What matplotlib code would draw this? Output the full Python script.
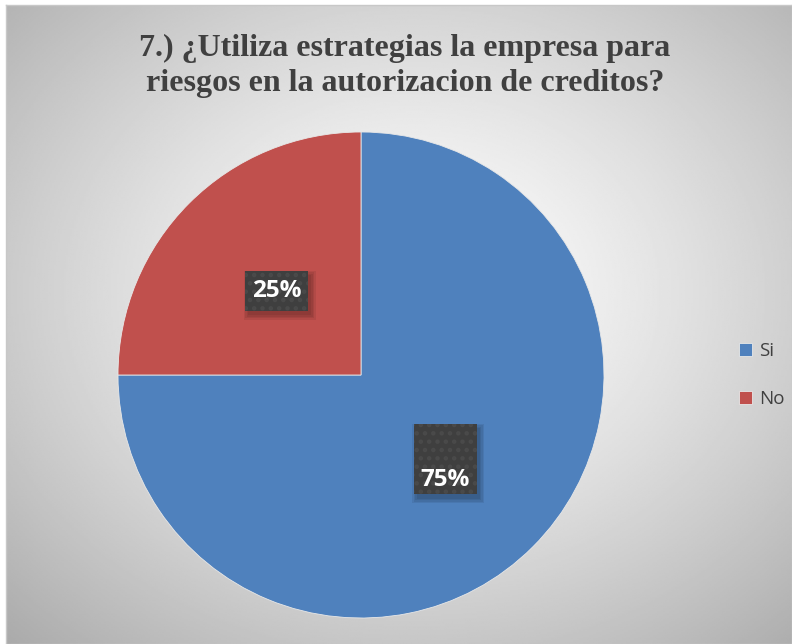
import numpy as np
import matplotlib
matplotlib.use("Agg")
import matplotlib.pyplot as plt
from matplotlib.patches import Rectangle

# data
categories = ["Si", "No"]
values = [75, 25]
colors = ["#4F81BD", "#C0504D"]
title = "7.) ¿Utiliza estrategias la empresa para\nriesgos en la autorizacion de creditos?"

W, H = 792, 644
fig = plt.figure(figsize=(W / 100, H / 100), dpi=100)
fig.patch.set_facecolor("white")

# radial gradient background
bg = fig.add_axes([6 / W, 0, 1 - 6 / W, 1 - 5 / H])
yy, xx = np.mgrid[0:1:400j, 0:1:400j]
r = np.sqrt(((xx - 0.52) / 0.75) ** 2 + ((yy - 0.45) / 0.75) ** 2)
shade = np.clip(1.0 - 0.33 * r ** 1.3, 0, 1)
bg.imshow(shade, cmap="gray", vmin=0, vmax=1, extent=[0, 1, 0, 1],
          aspect="auto", origin="upper")
bg.set_xticks([])
bg.set_yticks([])
for s in bg.spines.values():
    s.set_color("#c8c8c8")
    s.set_linewidth(1)

# pie axes: centre (361, 375) px, radius 243 px
cx, cy, rad = 361 / W, 1 - 375 / H, 243
ax = fig.add_axes([cx - rad / W, cy - rad / H, 2 * rad / W, 2 * rad / H])
wedges, _ = ax.pie(values, colors=colors, startangle=90, counterclock=False,
                   radius=1, wedgeprops=dict(edgecolor="#e8e8e8", linewidth=0.6),
                   frame=False)
ax.set_xlim(-1, 1)
ax.set_ylim(-1, 1)

# data labels in dark boxes
plt.rcParams["hatch.linewidth"] = 2.0
box_h = {"Si": 0.29, "No": 0.165}
for w, cat, v in zip(wedges, categories, values):
    ang = np.deg2rad((w.theta1 + w.theta2) / 2)
    lx, ly = 0.49 * np.cos(ang), 0.49 * np.sin(ang)
    bw, bh = 0.26, box_h[cat]
    # soft shadow
    for k in range(4):
        d = 0.006 * k
        ax.add_patch(Rectangle((lx - bw / 2 + 0.012 - d, ly - bh / 2 - 0.018 - d),
                               bw + 2 * d, bh + 2 * d,
                               facecolor="black", alpha=0.07, edgecolor="none", zorder=3))
    ax.add_patch(Rectangle((lx - bw / 2, ly - bh / 2), bw, bh,
                           facecolor="#3f3f3f", edgecolor="#4a4a4a", linewidth=0,
                           hatch="..", zorder=4))
    ty = ly if cat == "No" else ly - bh / 2 + 0.06
    ax.text(lx, ty, f"{v}%", ha="center", va="center", color="white",
            fontsize=17.5, fontweight="bold", family="Open Sans", zorder=5)

fig.text(405 / W, 1 - 66 / H, title, ha="center", va="center",
         fontsize=23, fontweight="bold", family="Liberation Serif",
         color="#404040", linespacing=1.3)

fig.legend(wedges, categories, loc="center left",
           bbox_to_anchor=(722 / W, 1 - 375 / H), frameon=False,
           prop={"family": "Open Sans", "size": 13.5}, labelcolor="#404040",
           handlelength=0.7, handleheight=0.7, handletextpad=0.4,
           labelspacing=1.6)

fig.savefig("out.png", dpi=100)
